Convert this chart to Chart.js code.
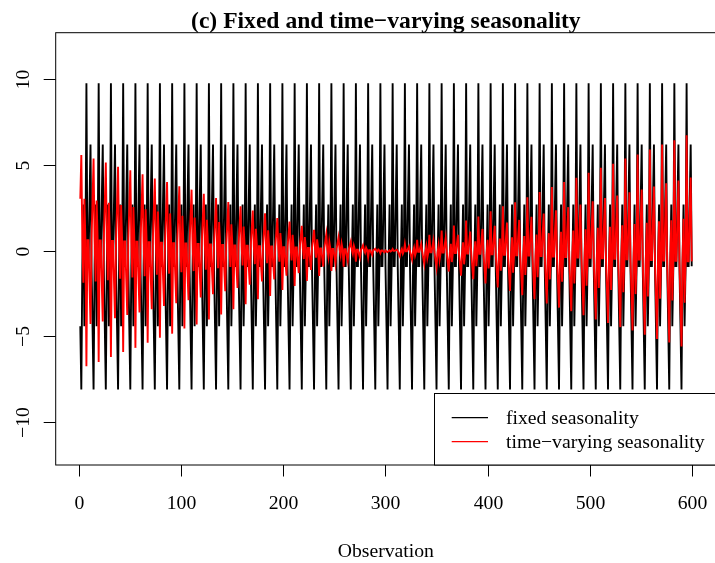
<!DOCTYPE html>
<html>
<head>
<meta charset="utf-8">
<script src="https://cdn.jsdelivr.net/npm/chart.js@4"></script>
<style>
  html, body { margin: 0; padding: 0; background: #fff; overflow: hidden; }
  #wrap { width: 716px; height: 563px; }
</style>
</head>
<body>
<div id="wrap"><canvas id="c" width="716" height="563"></canvas></div>
<script>
// one 12-step cycle of the fixed seasonal pattern
const season = [-4.4, -8.1, -0.9, 2.7, -4.4, -0.9, 9.77, -0.9, -0.9, 2.7, 6.2, -0.9];
// per-cycle weight of the time-varying series (read from the red peaks)
const redScale = [
  -0.69, -0.665, -0.635, -0.605, -0.58, -0.55, -0.52, -0.495, -0.465, -0.44,
  -0.41, -0.38, -0.35, -0.32, -0.29, -0.27, -0.235, -0.21, -0.18, -0.15,
  -0.12, -0.095, -0.065, -0.04, -0.015, 0.01, 0.04, 0.065, 0.095, 0.12,
  0.15, 0.18, 0.205, 0.235, 0.265, 0.29, 0.32, 0.35, 0.38, 0.41,
  0.435, 0.465, 0.495, 0.52, 0.55, 0.575, 0.605, 0.635, 0.66, 0.69
];
const nObs = 600;
const xTicks = [0, 100, 200, 300, 400, 500, 600];
const yTicks = [-10, -5, 0, 5, 10];
const seriesNames = ['fixed seasonality', 'time\u2212varying seasonality'];

const fixedPts = [], varyPts = [];
for (let i = 0; i < nObs; i++) {
  const s = season[i % 12];
  fixedPts.push({ x: i + 1, y: s });
  varyPts.push({ x: i + 1, y: s * redScale[Math.floor(i / 12)] });
}

const FONT = '"Liberation Serif", "Times New Roman", serif';

const rFrame = {
  id: 'rFrame',
  afterDraw(chart) {
    const ctx = chart.ctx, a = chart.chartArea;
    const xs = chart.scales.x, ys = chart.scales.y;
    ctx.save();
    ctx.strokeStyle = '#000'; ctx.fillStyle = '#000'; ctx.lineWidth = 1;
    ctx.strokeRect(a.left, a.top, a.right - a.left, a.bottom - a.top);
    // x axis
    ctx.font = '19.7px ' + FONT;
    ctx.textAlign = 'center'; ctx.textBaseline = 'alphabetic';
    xTicks.forEach(v => {
      const px = Math.round(xs.getPixelForValue(v)) + 0.5;
      ctx.beginPath(); ctx.moveTo(px, a.bottom); ctx.lineTo(px, a.bottom + 11.5); ctx.stroke();
      ctx.fillText(String(v), px, 508.5);
    });
    // y axis, labels parallel to the axis
    yTicks.forEach(v => {
      const py = Math.round(ys.getPixelForValue(v)) + 0.5;
      ctx.beginPath(); ctx.moveTo(a.left, py); ctx.lineTo(a.left - 12, py); ctx.stroke();
      ctx.save();
      ctx.translate(28.5, py); ctx.rotate(-Math.PI / 2);
      ctx.fillText(v < 0 ? '\u2212' + Math.abs(v) : String(v), 0, 0);
      ctx.restore();
    });
    const mid = (a.left + a.right) / 2;
    ctx.fillText('Observation', mid, 556.5);
    ctx.font = 'bold 23.6px ' + FONT;
    ctx.fillText('(c) Fixed and time\u2212varying seasonality', mid, 28);
    // legend, bottom right
    const lx = 434, ly = 393.5;
    ctx.fillStyle = '#fff';
    ctx.fillRect(lx, ly, a.right - lx, a.bottom - ly);
    ctx.strokeRect(lx + 0.5, ly, a.right - lx, a.bottom - ly);
    ctx.font = '19.7px ' + FONT;
    ctx.textAlign = 'left';
    chart.data.datasets.forEach((d, i) => {
      const y = 417.7 + i * 24;
      ctx.strokeStyle = d.borderColor; ctx.lineWidth = 1.3;
      ctx.beginPath(); ctx.moveTo(451.7, y); ctx.lineTo(488, y); ctx.stroke();
      ctx.fillStyle = '#000';
      ctx.fillText(d.label, 506, y + 6.6);
    });
    ctx.restore();
  }
};

new Chart(document.getElementById('c'), {
  type: 'line',
  data: {
    datasets: [
      { label: seriesNames[0], data: fixedPts, borderColor: '#000000', borderWidth: 1.9, pointRadius: 0, tension: 0, order: 2 },
      { label: seriesNames[1], data: varyPts, borderColor: '#ff0000', borderWidth: 1.9, pointRadius: 0, tension: 0, order: 1 }
    ]
  },
  options: {
    responsive: false,
    animation: false,
    layout: { padding: { left: 55.7, top: 32.7, right: 0, bottom: 98 } },
    scales: {
      x: { type: 'linear', min: -23.1, max: 623.8, display: false },
      y: { type: 'linear', min: -12.5, max: 12.72, display: false }
    },
    plugins: { legend: { display: false }, tooltip: { enabled: false }, title: { display: false } }
  },
  plugins: [rFrame]
});
</script>
</body>
</html>
